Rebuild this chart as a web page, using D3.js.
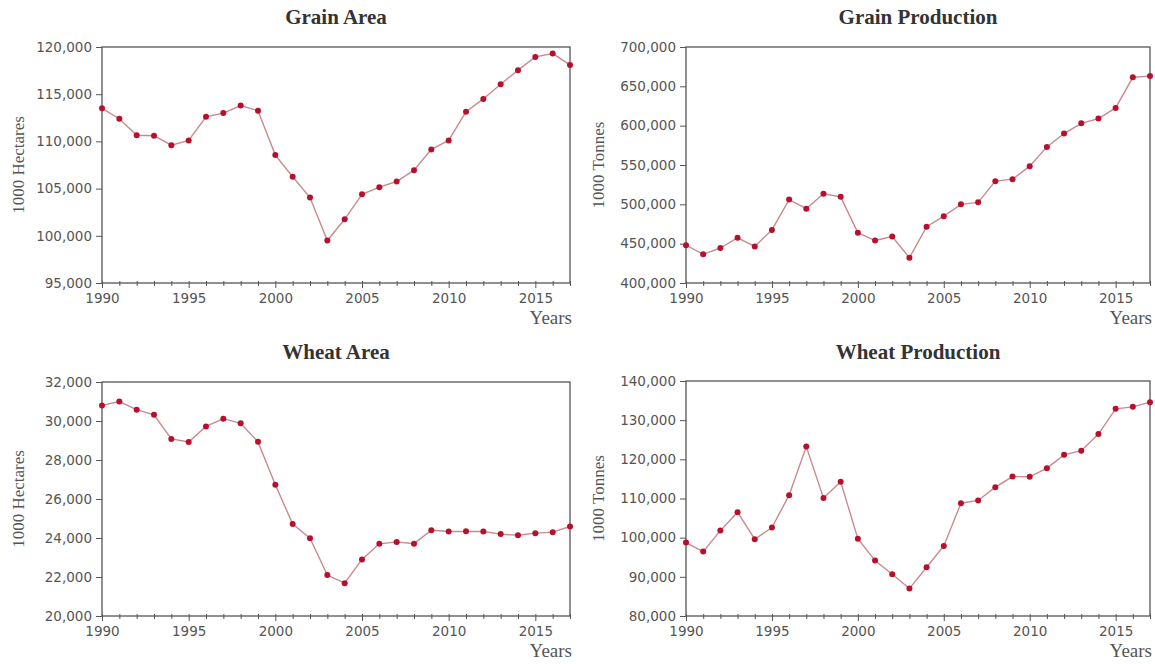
<!DOCTYPE html>
<html>
<head>
<meta charset="utf-8">
<script src="https://cdn.jsdelivr.net/npm/d3@7"></script>
<style>
  body { margin: 0; background: #fff; }
  .tick text { font-family: "DejaVu Sans", Verdana, sans-serif; font-size: 13.5px; fill: #555; }
  .title { font-family: "Liberation Serif", "Times New Roman", serif; font-weight: bold; font-size: 21px; fill: #333; }
  .ylab { font-family: "Liberation Serif", "Times New Roman", serif; font-size: 17px; fill: #555; }
  .xlab { font-family: "Liberation Serif", "Times New Roman", serif; font-size: 19px; fill: #555; }
</style>
</head>
<body>
<div id="root"></div>
<script>
// data
var years = d3.range(1990, 2018);
var grainArea = [113500, 112400, 110650, 110600, 109600, 110100, 112600, 113000, 113800, 113250,
  108550, 106250, 104050, 99500, 101750, 104400, 105150, 105750, 106950, 109150,
  110100, 113150, 114500, 116050, 117550, 118950, 119300, 118100];
var grainProd = [448000, 436500, 444500, 457500, 446500, 467500, 506000, 494500, 513500, 509500,
  464000, 454000, 459000, 432000, 471500, 485000, 500000, 502500, 529500, 532000,
  548500, 573000, 590000, 603000, 609000, 622500, 661500, 663000];
var wheatArea = [30800, 31000, 30580, 30320, 29080, 28920, 29720, 30120, 29880, 28930,
  26730, 24720, 23990, 22100, 21680, 22900, 23700, 23800, 23710, 24400,
  24330, 24340, 24330, 24200, 24140, 24250, 24300, 24590];
var wheatProd = [98750, 96450, 101800, 106500, 99600, 102600, 110850, 123250, 110100, 114250,
  99750, 94150, 90650, 87000, 92450, 97900, 108800, 109500, 112900, 115600,
  115550, 117750, 121150, 122200, 126450, 132900, 133400, 134600];
var majorYears = [1990, 1995, 2000, 2005, 2010, 2015];

var panels = [
  { title: "Grain Area", ylab: "1000 Hectares", values: grainArea, domain: [95000, 120000], step: 5000,
    x0: 102, x1: 570, y0: 47, y1: 283, titleY: 24, ylabX: 24 },
  { title: "Grain Production", ylab: "1000 Tonnes", values: grainProd, domain: [400000, 700000], step: 50000,
    x0: 686, x1: 1150, y0: 47, y1: 283, titleY: 24, ylabX: 604 },
  { title: "Wheat Area", ylab: "1000 Hectares", values: wheatArea, domain: [20000, 32000], step: 2000,
    x0: 102, x1: 570, y0: 382, y1: 616, titleY: 359, ylabX: 24 },
  { title: "Wheat Production", ylab: "1000 Tonnes", values: wheatProd, domain: [80000, 140000], step: 10000,
    x0: 686, x1: 1150, y0: 381, y1: 616, titleY: 359, ylabX: 604 }
];

var svg = d3.select("#root").append("svg")
    .attr("width", 1155)
    .attr("height", 664);

var fmt = d3.format(",");

panels.forEach(function(p) {
  var x = d3.scaleLinear().domain([1990, 2017]).range([p.x0, p.x1]);
  var y = d3.scaleLinear().domain(p.domain).range([p.y1, p.y0]);
  var g = svg.append("g");

  // title
  g.append("text").attr("class", "title")
    .attr("x", (p.x0 + p.x1) / 2).attr("y", p.titleY)
    .attr("text-anchor", "middle").text(p.title);

  // y axis
  var yAxis = g.append("g")
    .attr("transform", "translate(" + p.x0 + ",0)")
    .call(d3.axisLeft(y)
      .tickValues(d3.range(p.domain[0], p.domain[1] + 1, p.step))
      .tickFormat(fmt).tickSize(6).tickPadding(4));

  // x axis: minor ticks every year, labels on the fives
  var xAxis = g.append("g")
    .attr("transform", "translate(0," + p.y1 + ")")
    .call(d3.axisBottom(x).tickValues(years).tickSize(3).tickPadding(7)
      .tickFormat(function(d) { return majorYears.indexOf(d) >= 0 ? d : ""; }));
  xAxis.selectAll(".tick line")
    .attr("y1", -2)
    .attr("y2", function(d) { return majorYears.indexOf(d) >= 0 ? 5 : 3; });

  [yAxis, xAxis].forEach(function(a) {
    a.select(".domain").remove();
    a.selectAll(".tick line").attr("stroke", "#555");
  });

  // frame
  g.append("rect")
    .attr("x", p.x0).attr("y", p.y0)
    .attr("width", p.x1 - p.x0).attr("height", p.y1 - p.y0)
    .attr("fill", "none").attr("stroke", "#555").attr("stroke-width", 1.3);

  // axis labels
  g.append("text").attr("class", "ylab")
    .attr("transform", "translate(" + p.ylabX + "," + ((p.y0 + p.y1) / 2) + ") rotate(-90)")
    .attr("text-anchor", "middle").text(p.ylab);
  g.append("text").attr("class", "xlab")
    .attr("x", p.x1 + 2).attr("y", p.y1 + 41)
    .attr("text-anchor", "end").text("Years");

  // series
  var line = d3.line()
    .x(function(d, i) { return x(years[i]); })
    .y(function(d) { return y(d); });
  g.append("path").datum(p.values)
    .attr("d", line)
    .attr("fill", "none")
    .attr("stroke", "#c98a8e")
    .attr("stroke-width", 1.4);
  g.selectAll(".dot").data(p.values).enter().append("circle")
    .attr("class", "dot")
    .attr("cx", function(d, i) { return x(years[i]); })
    .attr("cy", function(d) { return y(d); })
    .attr("r", 3)
    .attr("fill", "#b8102c");
});
</script>
</body>
</html>
